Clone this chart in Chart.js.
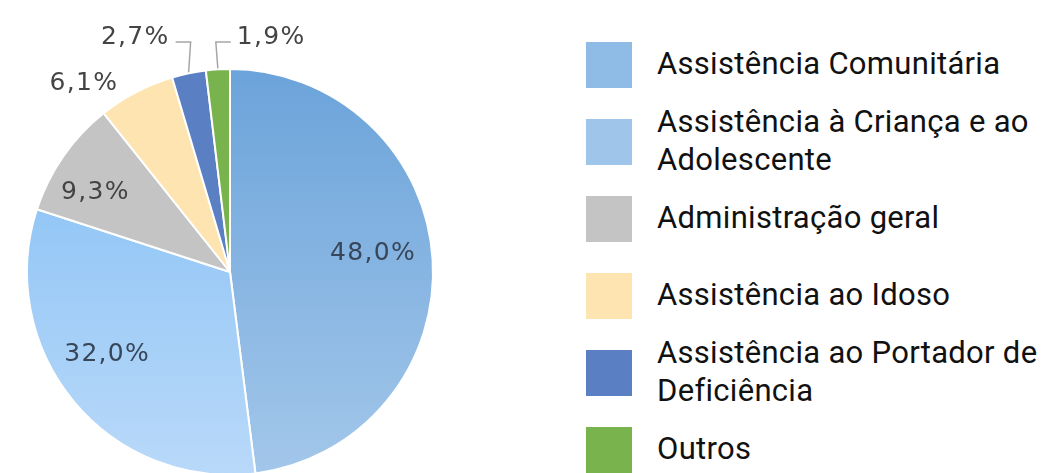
<!DOCTYPE html>
<html lang="pt">
<head>
<meta charset="utf-8">
<script src="https://cdn.jsdelivr.net/npm/chart.js@4"></script>
<style>
  html, body { margin: 0; padding: 0; background: #fff; overflow: hidden; }
  body { width: 1049px; height: 473px; position: relative; }
  #pieBox { position: absolute; left: 0; top: 0; width: 460px; height: 544px; }
  #legend { position: absolute; left: 586px; top: 42px; margin: 0; padding: 0; list-style: none;
            font-family: Roboto, "Noto Sans", sans-serif; font-size: 31px; letter-spacing: 0.3px; color: #111; }
  #legend li { position: relative; height: 77px; }
  #legend .sq { position: absolute; left: 0; top: 0; width: 46px; height: 46px; }
  #legend .tx { position: absolute; left: 71px; top: 22px; transform: translateY(-50%);
                width: 395px; line-height: 38px; }
</style>
</head>
<body>
<div id="pieBox"><canvas id="pie"></canvas></div>
<ul id="legend"></ul>
<script>
// ── DADOS ─────────────────────────────────────────────────────────
const categorias = [
  'Assistência Comunitária',
  'Assistência à Criança e ao Adolescente',
  'Administração geral',
  'Assistência ao Idoso',
  'Assistência ao Portador de Deficiência',
  'Outros'
];
const percentuais = [48.0, 32.0, 9.3, 6.1, 2.7, 1.9];

// cores da legenda (as fatias azuis usam gradiente)
const cores = ['#8fbce6', '#9fc5eb', '#c4c4c4', '#fde4b0', '#5a7fc3', '#79b34d'];
const gradientes = [['#6ba3da', '#a3c7ea'], ['#80bdf4', '#b9d9f9'], null, null, null, null];

// onde cada rótulo fica: dentro, fora, ou com linha de chamada (da = desvio angular, graus)
const rotulos = [
  { modo: 'in', f: 0.71, da: -3.6, cor: '#38465a' },
  { modo: 'in', f: 0.73, da: 5.6, cor: '#38465a' },
  { modo: 'in', f: 0.77, da: -4.2, cor: '#444444' },
  { modo: 'out', f: 1.08, da: -3.1, cor: '#444444' },
  { modo: 'leader', lado: -1, cor: '#444444' },
  { modo: 'leader', lado: 1, cor: '#444444' }
];

function fmtPct(v) {
  return v.toFixed(1).replace('.', ',') + '%';
}

// ── LEGENDA ───────────────────────────────────────────────────────
document.getElementById('legend').innerHTML = categorias
  .map((c, i) => `<li><span class="sq" style="background:${cores[i]}"></span><span class="tx">${c}</span></li>`)
  .join('');

// ── RÓTULOS ───────────────────────────────────────────────────────
const rotuloPlugin = {
  id: 'rotulos',
  afterDatasetsDraw(chart) {
    const ctx = chart.ctx;
    const arcs = chart.getDatasetMeta(0).data;
    ctx.save();
    ctx.font = '25px "DejaVu Sans", Verdana, sans-serif';
    ctx.letterSpacing = '1.3px';
    arcs.forEach((arc, i) => {
      const p = arc.getProps(['x', 'y', 'startAngle', 'endAngle', 'outerRadius'], true);
      const cfg = rotulos[i];
      const a = (p.startAngle + p.endAngle) / 2 + (cfg.da || 0) * Math.PI / 180;
      const r = p.outerRadius;
      const txt = fmtPct(percentuais[i]);
      ctx.fillStyle = cfg.cor;
      if (cfg.modo === 'in' || cfg.modo === 'out') {
        ctx.textAlign = cfg.modo === 'in' ? 'center' : 'right';
        ctx.textBaseline = 'middle';
        ctx.fillText(txt, p.x + Math.cos(a) * r * cfg.f, p.y + Math.sin(a) * r * cfg.f);
      } else {
        const x0 = p.x + Math.cos(a) * (r + 1);
        const y0 = p.y + Math.sin(a) * (r + 1);
        const yE = p.y - r - 27;
        const x1 = x0 + cfg.lado * 13;
        ctx.strokeStyle = '#a6a6a6';
        ctx.lineWidth = 1.5;
        ctx.beginPath();
        ctx.moveTo(x0, y0);
        ctx.lineTo(x0 - cfg.lado * 2, yE);
        ctx.lineTo(x1, yE);
        ctx.stroke();
        ctx.textAlign = cfg.lado < 0 ? 'right' : 'left';
        ctx.textBaseline = 'alphabetic';
        ctx.fillText(txt, x1 + cfg.lado * 6, yE + 2);
      }
    });
    ctx.restore();
  }
};

// ── GRÁFICO ───────────────────────────────────────────────────────
function corFatia(c) {
  const i = c.dataIndex;
  const g = gradientes[i];
  const area = c.chart.chartArea;
  if (!g || !area) return cores[i];
  const grad = c.chart.ctx.createLinearGradient(0, area.top, 0, area.bottom);
  grad.addColorStop(0, g[0]);
  grad.addColorStop(1, g[1]);
  return grad;
}

new Chart(document.getElementById('pie'), {
  type: 'pie',
  data: {
    labels: categorias,
    datasets: [{
      data: percentuais,
      backgroundColor: corFatia,
      borderColor: '#ffffff',
      borderWidth: 2,
    }],
  },
  options: {
    responsive: true,
    maintainAspectRatio: false,
    animation: false,
    layout: { padding: { left: 26, right: 26, top: 68, bottom: 68 } },
    plugins: { legend: { display: false }, tooltip: { enabled: false } },
  },
  plugins: [rotuloPlugin],
});
</script>
</body>
</html>
